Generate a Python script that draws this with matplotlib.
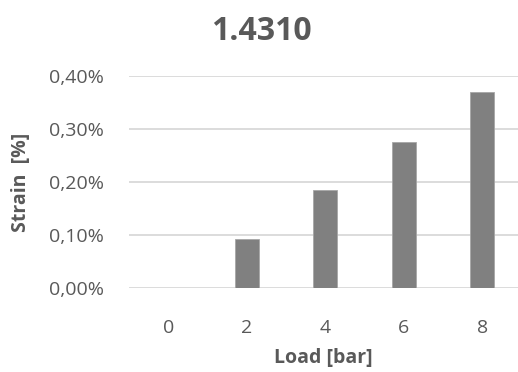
import numpy as np
import matplotlib
matplotlib.use("Agg")
import matplotlib.pyplot as plt
from matplotlib.ticker import FuncFormatter

# data
loads = ["0", "2", "4", "6", "8"]
strain = [0.0, 0.0925, 0.184, 0.276, 0.369]  # in percent
yticks = [0.0, 0.1, 0.2, 0.3, 0.4]

txt = "#595959"
plt.rcParams['font.family'] = ['Open Sans', 'DejaVu Sans']

fig = plt.figure(figsize=(5.18, 3.72), dpi=100)
ax = fig.add_axes([129/518, 1-288/372, 389/518, 212/372])

x = np.arange(len(loads))
ax.bar(x, strain, width=0.31, color="#808080", edgecolor="#a6a6a6", linewidth=0.6, zorder=3)

ax.set_xlim(-0.5, 4.455)
ax.set_ylim(0, 0.4)
ax.set_yticks(yticks)
ax.yaxis.set_major_formatter(FuncFormatter(lambda v, p: f"{v:.2f}%".replace(".", ",")))
ax.set_xticks(x, labels=loads)
ax.grid(axis='y', color="#d9d9d9", linewidth=1.3, zorder=0)
ax.set_axisbelow(True)
for s in ax.spines.values():
    s.set_visible(False)
ax.tick_params(length=0, colors=txt, labelsize=14)
ax.tick_params(axis='y', pad=18)
ax.tick_params(axis='x', pad=22)

ax.set_title("1.4310", fontsize=23, fontweight='bold', color=txt, pad=26, x=(261-129)/389)
ax.set_xlabel("Load [bar]", fontsize=14, fontweight='bold', color=txt, labelpad=8)
ax.set_ylabel("Strain  [%]", fontsize=14, fontweight='bold', color=txt)
ax.yaxis.set_label_coords(-(129-31)/389, 0.5)

fig.savefig("out.png", dpi=100)
